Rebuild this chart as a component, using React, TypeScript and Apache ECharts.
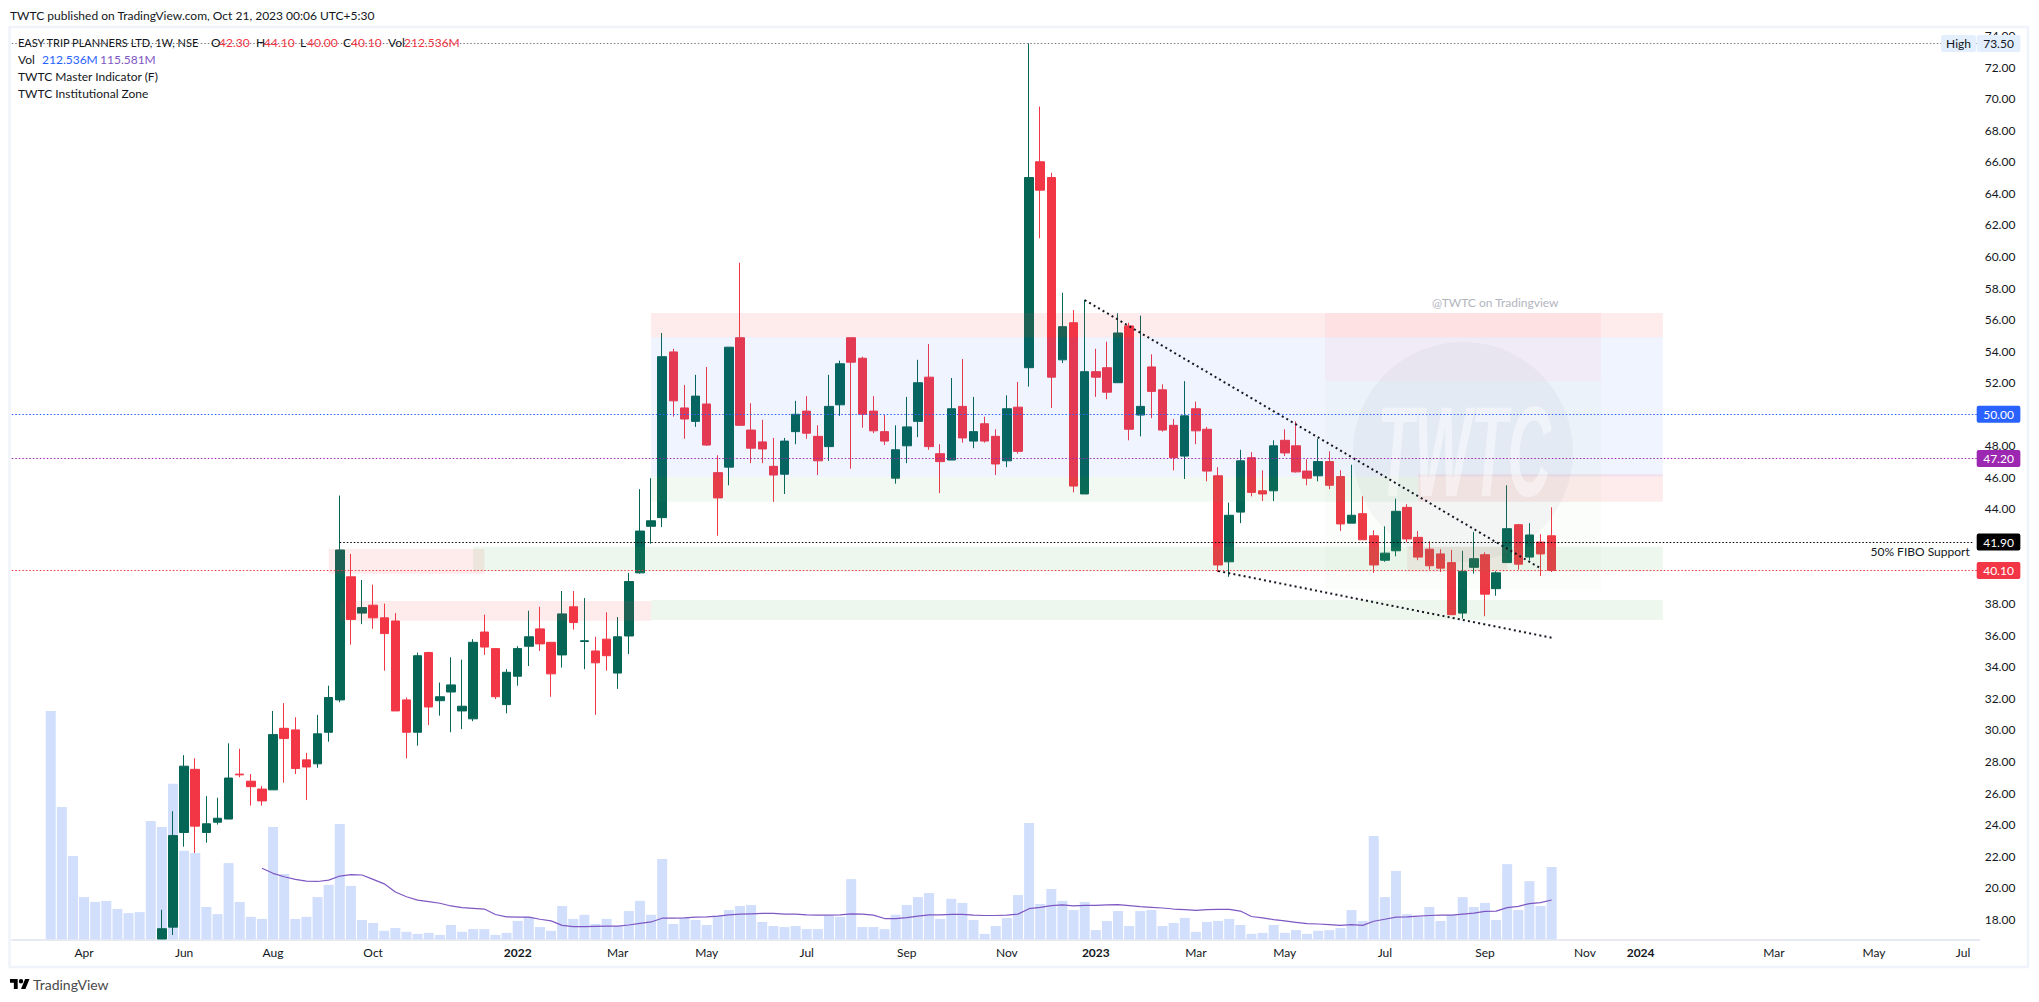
import React, { useEffect, useRef } from 'react';
import * as echarts from 'echarts';

const FONT = 'Lato, sans-serif';
const UP = '#056656';
const DOWN = '#F23645';
const TEXT = '#131722';

// blank bars in front of the first volume bar, and all slots on the time axis
const LEAD = 3;
const SLOTS = 177;
const at = (bar: number) => bar + LEAD;

const timeLabels: [number, string][] = [
  [3, 'Apr'], [12, 'Jun'], [20, 'Aug'], [29, 'Oct'], [42, '2022'], [51, 'Mar'], [59, 'May'],
  [68, 'Jul'], [77, 'Sep'], [86, 'Nov'], [94, '2023'], [103, 'Mar'], [111, 'May'], [120, 'Jul'],
  [129, 'Sep'], [138, 'Nov'], [143, '2024'], [155, 'Mar'], [164, 'May'], [172, 'Jul']
];

const priceTicks = [
  18, 20, 22, 24, 26, 28, 30, 32, 34, 36, 38, 40, 42, 44, 46, 48, 50, 52, 54, 56, 58, 60, 62, 64, 66, 68, 70, 72, 74
];

// the first 10 weeks trade below the visible price range
const hiddenWeeks = 10;

// open, close, low, high (the first candle is cut off by the bottom of the pane)
const candles = [
  [16.75, 17.4, 16.75, 18.6], [17.5, 23.3, 17, 24.85], [23.5, 27.7, 22.6, 28.4], [27.5, 23.9, 22.2, 28.2],
  [23.5, 24.05, 22.85, 25.8], [24.15, 24.4, 24, 25.7], [24.35, 26.95, 24.35, 29.15], [27.2, 27.15, 27, 28.8],
  [26.75, 26.4, 25.2, 27.2], [26.25, 25.5, 25.2, 26.45], [26.2, 29.7, 26.2, 31.2], [30.1, 29.45, 26.65, 31.7],
  [30, 27.55, 27.2, 30.8], [28.1, 27.65, 25.55, 28.55], [27.85, 29.75, 27.6, 30.95], [29.85, 32.05, 29.25, 32.8],
  [31.9, 41.4, 31.75, 44.85], [39.7, 37, 35.4, 41.15], [37.4, 37.75, 36.7, 39.5], [37.9, 37.1, 36.4, 39.2],
  [37.1, 36.1, 33.75, 38], [36.9, 31.2, 31.2, 37.4], [31.9, 29.85, 28.2, 32.05], [29.85, 34.7, 29, 34.9],
  [34.9, 31.45, 30.3, 34.95], [31.85, 32.1, 30.9, 33], [32.4, 32.85, 29.85, 34.6], [31.2, 31.5, 30.05, 34.45],
  [30.7, 35.55, 30.55, 35.75], [36.2, 35.25, 34.75, 37.3], [35.15, 32.1, 31.95, 35.15], [31.6, 33.65, 31.05, 33.85],
  [33.4, 35.15, 32.8, 35.3], [35.3, 35.9, 34.05, 37.55], [36.4, 35.45, 35, 37.8], [35.55, 33.55, 32.1, 35.55],
  [34.75, 37.35, 33.95, 38.8], [37.8, 36.8, 36.35, 38.8], [35.6, 35.65, 33.85, 38.35], [35, 34.25, 30.95, 35.9],
  [35.75, 34.7, 33.75, 37.45], [33.6, 35.9, 32.6, 37.15], [35.95, 39.4, 34.8, 39.95], [39.95, 42.6, 39.9, 45.25],
  [42.9, 43.25, 41.8, 45.95], [43.45, 53.65, 42.85, 55.15], [53.95, 50.85, 49.85, 54.15], [50.4, 49.7, 48.45, 51.85],
  [49.55, 51.15, 49.2, 52.5], [50.65, 48.05, 48, 53], [46.3, 44.7, 42.3, 47.4], [46.65, 54.25, 45.5, 54.25],
  [54.85, 49.3, 49.3, 59.6], [49, 47.85, 46.9, 50.7], [48.25, 47.8, 46.9, 49.65], [46.7, 46.15, 44.45, 48.5],
  [46.2, 48.3, 44.95, 48.5], [48.9, 50, 48.1, 50.85], [50.2, 48.8, 48.45, 51.15], [48.6, 47.05, 46.15, 49.3],
  [47.95, 50.5, 47.05, 52.5], [50.6, 53.2, 49.9, 53.4], [54.85, 53.3, 46.55, 54.85], [53.55, 50, 49.15, 53.65],
  [50.2, 48.95, 48.8, 51.15], [48.9, 48.3, 48.05, 49.95], [45.95, 47.75, 45.6, 49.3], [48, 49.2, 46.9, 51.1],
  [49.55, 52, 48.55, 53.45], [52.35, 47.95, 47.75, 54.45], [47.5, 47, 45, 48.1], [47.1, 50.35, 47.1, 52.3],
  [50.5, 48.5, 48.2, 53.5], [48.3, 48.9, 47.85, 51.1], [49.4, 48.3, 48.2, 49.85], [48.6, 46.85, 46.15, 49.05],
  [47.05, 50.35, 46.65, 51.2], [50.45, 47.65, 47.5, 52.05], [52.95, 65, 51.75, 73.5], [66, 64.2, 61.15, 69.5],
  [65, 52.35, 50.4, 65.3], [53.45, 55.55, 53.25, 57.7], [55.8, 45.45, 45.05, 56.6], [44.95, 52.7, 44.95, 57.25],
  [52.7, 52.35, 51.1, 54.15], [52.95, 51.4, 50.95, 54.6], [52, 55.15, 52, 56.4], [55.6, 49.05, 48.35, 55.8],
  [49.95, 50.5, 48.6, 56.25], [53, 51.45, 49.75, 53.8], [51.55, 49, 48.9, 51.9], [49.3, 47.25, 46.45, 49.7],
  [47.35, 49.9, 45.9, 52.1], [50.35, 48.95, 48.1, 50.8], [49.05, 46.4, 45.75, 49.2], [46.1, 40.45, 40, 46.65],
  [40.65, 43.6, 39.7, 44.4], [43.8, 47.05, 43.1, 47.75], [47.25, 45.05, 44.8, 47.6], [45.15, 44.95, 44.5, 46.45],
  [45.15, 48, 44.5, 48.35], [48.35, 47.55, 47.35, 49.05], [48, 46.35, 46.3, 49.55], [46.4, 45.95, 45.5, 47.15],
  [46.1, 47, 45.75, 48.45], [47, 45.5, 45.25, 47.65], [46.05, 43.05, 42.6, 46.45], [43.1, 43.6, 43.1, 46.8],
  [43.7, 42.05, 42.05, 44.8], [42.3, 40.45, 39.95, 42.65], [40.75, 41.2, 40.65, 42.9], [41.35, 43.85, 41, 44.65],
  [44.1, 42.1, 41.9, 44.3], [42.2, 40.95, 40.75, 42.6], [41.45, 40.4, 40.15, 41.95], [41.15, 40.25, 40, 41.45],
  [40.6, 37.3, 37.3, 41.4], [37.4, 40.05, 37.05, 41.35], [40.3, 40.85, 39.9, 42.55], [41.1, 38.6, 37.2, 41.25],
  [38.95, 39.95, 38.5, 40.05], [40.6, 42.75, 40.6, 45.5], [43, 40.5, 40.15, 43.05], [40.95, 42.35, 40.75, 43.1],
  [41.9, 41.15, 39.75, 42.4], [42.3, 40.1, 40, 44.1]
];

// weekly volume, millions
const volumes = [
  671, 389, 245, 124, 110, 113, 89, 77, 80, 348, 330, 457, 260, 254, 95, 74, 224, 110, 66, 60,
  330, 192, 60, 66, 124, 160, 339, 157, 57, 48, 25, 33, 22, 16, 19, 13, 42, 22, 30, 30,
  13, 19, 54, 66, 36, 25, 98, 60, 72, 45, 60, 39, 83, 113, 72, 236, 45, 63, 57, 42,
  69, 86, 98, 101, 51, 39, 36, 39, 30, 30, 69, 66, 177, 36, 36, 30, 72, 101, 124, 136,
  60, 119, 107, 57, 16, 39, 63, 130, 342, 104, 148, 113, 86, 110, 27, 54, 83, 39, 83, 86,
  39, 48, 63, 22, 51, 54, 60, 42, 16, 19, 42, 19, 27, 16, 25, 27, 33, 86, 54, 304,
  124, 201, 74, 66, 95, 54, 72, 124, 95, 107, 57, 221, 86, 171, 98, 212.5
];

// volume moving average, starts at bar 19
const volumeMaStart = 19;
const volumeMa = [
  209, 194, 184, 176, 171, 170, 174, 186, 190, 189, 176, 163, 139, 125, 115, 111, 106, 98, 93, 91,
  89, 73, 66, 65, 65, 59, 54, 41, 37, 37, 38, 39, 39, 42, 47, 51, 62, 62, 63, 65,
  66, 68, 72, 74, 75, 76, 76, 74, 74, 72, 71, 71, 72, 75, 74, 71, 61, 61, 64, 68,
  72, 72, 73, 73, 71, 70, 70, 71, 74, 90, 94, 99, 101, 98, 100, 100, 101, 102, 99, 96,
  94, 92, 89, 87, 85, 87, 88, 88, 83, 67, 63, 58, 54, 50, 46, 45, 43, 41, 43, 41,
  53, 59, 65, 66, 68, 70, 71, 71, 74, 77, 82, 83, 93, 97, 105, 108, 115.6
];

// zones: from bar, to bar, top price, bottom price, colour
const zones: [number, number, number, number, string][] = [
  [25, 39, 41.46, 39.9, 'rgba(242,54,69,0.1)'],
  [38, 145, 41.6, 40.03, 'rgba(76,175,80,0.1)'],
  [26, 54, 38.17, 36.92, 'rgba(242,54,69,0.1)'],
  [54, 145, 38.23, 36.97, 'rgba(76,175,80,0.1)'],
  [54, 145, 56.42, 54.88, 'rgba(242,54,69,0.1)'],
  [54, 145, 54.9, 46.05, 'rgba(41,98,255,0.07)'],
  [54, 123, 46.05, 44.46, 'rgba(76,175,80,0.07)'],
  [123, 145, 46.2, 44.46, 'rgba(242,54,69,0.1)'],
  [122, 131, 41.6, 40.03, 'rgba(242,54,69,0.07)']
];

// trend lines: bar, price
const upperTrend = [[93, 57.24], [134, 40.24]];
const lowerTrend = [[105, 40.07], [135, 35.84]];

// price, tag background, tag text, line colour
const priceTags: [number, string, string, string][] = [
  [73.5, '#E3EFFD', TEXT, '#787B86'],
  [50, '#2962FF', '#FFFFFF', '#2962FF'],
  [47.2, '#9C27B0', '#FFFFFF', '#9C27B0'],
  [41.9, '#000000', '#FFFFFF', 'transparent'],
  [40.1, '#F23645', '#FFFFFF', '#F23645']
];
const fiboPrice = 41.9;
const fiboStartBar = 26;

// header and legend: text, x, y, colour, font size
const legendRuns: [string, number, number, string, number][] = [
  ['TWTC published on TradingView.com, Oct 21, 2023 00:06 UTC+5:30', 10, 15, TEXT, 12],
  ['EASY TRIP PLANNERS LTD, 1W, NSE', 18, 42, TEXT, 11],
  ['O', 211, 42, TEXT, 12], ['42.30', 219, 42, DOWN, 12],
  ['H', 256, 42, TEXT, 12], ['44.10', 264, 42, DOWN, 12],
  ['L', 300, 42, TEXT, 12], ['40.00', 307, 42, DOWN, 12],
  ['C', 343, 42, TEXT, 12], ['40.10', 351, 42, DOWN, 12],
  ['Vol', 388, 42, TEXT, 12], ['212.536M', 404, 42, DOWN, 12],
  ['Vol', 18, 59, TEXT, 12], ['212.536M', 42, 59, '#2962FF', 12], ['115.581M', 100, 59, '#7E57C2', 12],
  ['TWTC Master Indicator (F)', 18, 76, TEXT, 12],
  ['TWTC Institutional Zone', 18, 93, TEXT, 12]
];

echarts.graphic.registerShape(
  'tvLogo',
  echarts.graphic.extendPath('M14 22H7V11H0V4h14v18zM28 22h-8l7.5-18h8L28 22zM20 4a4 4 0 1 1 0 8a4 4 0 1 1 0-8z', {})
);

const App = () => {
  const chartRef = useRef<HTMLDivElement | null>(null);

  useEffect(() => {
    if (!chartRef.current) return;
    const chart = echarts.init(chartRef.current, null, { renderer: 'svg' });

    const categories = Array.from({ length: SLOTS }, (_, i) => String(i));
    const labelByIndex = new Map(timeLabels.map(([bar, text]) => [at(bar), text]));
    const blanks = (n: number) => Array.from({ length: n }, () => '-');

    const dotted = (color: string) => ({ color, width: 1, type: [1.5, 2] });
    const hiddenLine = { color: 'transparent', width: 0 };

    const priceLines: any[] = priceTags.map(([value, bg, color, line]) => ({
      yAxis: value,
      lineStyle: dotted(line),
      label: {
        show: true,
        position: 'end',
        formatter: value.toFixed(2),
        distance: -3,
        color,
        backgroundColor: bg,
        fontFamily: FONT,
        fontSize: 12,
        lineHeight: 13,
        padding: [2, 6.5],
        borderRadius: 2
      }
    }));
    priceLines.push([
      { coord: [at(fiboStartBar), fiboPrice], lineStyle: dotted('#000000'), label: { show: false } },
      { coord: [SLOTS - 1, fiboPrice] }
    ]);
    priceLines.push({
      yAxis: fiboPrice,
      lineStyle: hiddenLine,
      label: {
        show: true,
        position: 'insideEndBottom',
        formatter: '50% FIBO Support',
        distance: [10, 3],
        color: TEXT,
        fontFamily: FONT,
        fontSize: 12
      }
    });
    priceLines.push({
      yAxis: 73.5,
      lineStyle: hiddenLine,
      label: {
        show: true,
        position: 'insideEnd',
        formatter: 'High',
        distance: 3.7,
        color: TEXT,
        backgroundColor: '#E3EFFD',
        fontFamily: FONT,
        fontSize: 12,
        lineHeight: 13,
        padding: [2, 5],
        borderRadius: 2
      }
    });

    const option = {
      animation: false,
      backgroundColor: '#FFFFFF',
      grid: { left: 11.8, top: 27, width: SLOTS * 11.118, height: 912.3 },
      xAxis: {
        type: 'category',
        data: categories,
        boundaryGap: true,
        axisLine: { lineStyle: { color: '#E0E3EB', width: 1.5 } },
        axisTick: { show: false },
        splitLine: { show: false },
        axisLabel: {
          interval: (i: number) => labelByIndex.has(i),
          formatter: (_: string, i: number) => {
            const text = labelByIndex.get(i) || '';
            return text.length === 4 ? `{year|${text}}` : text;
          },
          color: TEXT,
          fontFamily: FONT,
          fontSize: 12,
          margin: 7,
          rich: { year: { color: TEXT, fontFamily: FONT, fontSize: 12, fontWeight: 700 } }
        }
      },
      yAxis: [
        {
          type: 'value',
          position: 'right',
          min: 16.73,
          max: 74.54,
          axisLine: { show: false },
          axisTick: { show: false },
          splitLine: { show: false },
          axisLabel: {
            customValues: priceTicks,
            formatter: (v: number) => v.toFixed(2),
            color: TEXT,
            fontFamily: FONT,
            fontSize: 12,
            margin: 5
          }
        },
        { type: 'value', min: 0, max: 2682, show: false }
      ],
      series: [
        {
          type: 'bar',
          yAxisIndex: 1,
          data: [...blanks(LEAD), ...volumes],
          barWidth: 10,
          itemStyle: { color: '#D1DFFD' },
          silent: true,
          z: 1
        },
        {
          type: 'line',
          yAxisIndex: 1,
          data: [...blanks(LEAD + volumeMaStart), ...volumeMa],
          symbol: 'none',
          lineStyle: { color: '#7E57C2', width: 1.2 },
          silent: true,
          z: 1
        },
        {
          type: 'candlestick',
          data: [...blanks(LEAD + hiddenWeeks).map(() => ['-', '-', '-', '-']), ...candles],
          barWidth: 9,
          clip: true,
          itemStyle: { color: UP, color0: DOWN, borderColor: UP, borderColor0: DOWN, borderWidth: 1 },
          silent: true,
          z: 2
        },
        {
          // zones sit over the candles
          type: 'line',
          data: [],
          silent: true,
          z: 5,
          markArea: {
            silent: true,
            z: 5,
            data: zones.map(([from, to, top, bottom, color]) => [
              { xAxis: at(from), yAxis: top, itemStyle: { color } },
              { xAxis: at(to), yAxis: bottom }
            ])
          }
        },
        ...[upperTrend, lowerTrend].map((points) => ({
          type: 'line',
          data: points.map(([bar, price]) => [at(bar), price]),
          symbol: 'none',
          lineStyle: { color: TEXT, width: 2, type: [2, 3.2] },
          silent: true,
          z: 8
        })),
        {
          type: 'line',
          data: [],
          silent: true,
          z: 9,
          markLine: {
            silent: true,
            z: 9,
            symbol: 'none',
            data: priceLines
          }
        }
      ],
      graphic: [
        {
          type: 'rect',
          z: 0,
          silent: true,
          shape: { x: 9.5, y: 27, width: 2018.5, height: 940 },
          style: { fill: 'none', stroke: '#F0F3FA', lineWidth: 2.5 }
        },
        // publisher's watermark
        {
          type: 'rect',
          z: 6,
          silent: true,
          shape: { x: 1325, y: 313, width: 276, height: 68 },
          style: { fill: 'rgba(255,0,0,0.035)' }
        },
        {
          type: 'rect',
          z: 6,
          silent: true,
          shape: { x: 1325, y: 381, width: 276, height: 208 },
          style: { fill: 'rgba(100,200,100,0.035)' }
        },
        {
          type: 'circle',
          z: 6,
          silent: true,
          shape: { cx: 1463, cy: 452, r: 110 },
          style: { fill: 'rgba(90,90,130,0.05)' }
        },
        {
          type: 'text',
          z: 6,
          silent: true,
          x: 1464,
          y: 451,
          scaleX: 0.47,
          style: {
            text: 'TWTC',
            font: 'italic bold 128px "Liberation Sans", sans-serif',
            fill: 'rgba(255,255,255,0.45)',
            textAlign: 'center',
            textVerticalAlign: 'middle'
          }
        },
        {
          type: 'text',
          z: 6,
          silent: true,
          x: 1432,
          y: 302,
          style: {
            text: '@TWTC on Tradingview',
            font: `12px ${FONT}`,
            fill: '#B2B5BE',
            textVerticalAlign: 'middle'
          }
        },
        ...legendRuns.map(([text, x, y, fill, size]) => ({
          type: 'text',
          z: 10,
          silent: true,
          x,
          y,
          style: { text, font: `${size}px ${FONT}`, fill, textVerticalAlign: 'middle' }
        })),
        {
          type: 'tvLogo',
          z: 10,
          silent: true,
          x: 10,
          y: 976.8,
          scaleX: 0.55,
          scaleY: 0.55,
          style: { fill: '#000000' }
        },
        {
          type: 'text',
          z: 10,
          silent: true,
          x: 33,
          y: 984,
          style: { text: 'TradingView', font: `14px ${FONT}`, fill: '#4A4A4A', textVerticalAlign: 'middle' }
        }
      ]
    };

    chart.setOption(option as any);

    return () => {
      chart.dispose();
    };
  }, []);

  return <div ref={chartRef} style={{ position: 'absolute', left: 0, top: 0, width: 2039, height: 1002 }} />;
};

export default App;
